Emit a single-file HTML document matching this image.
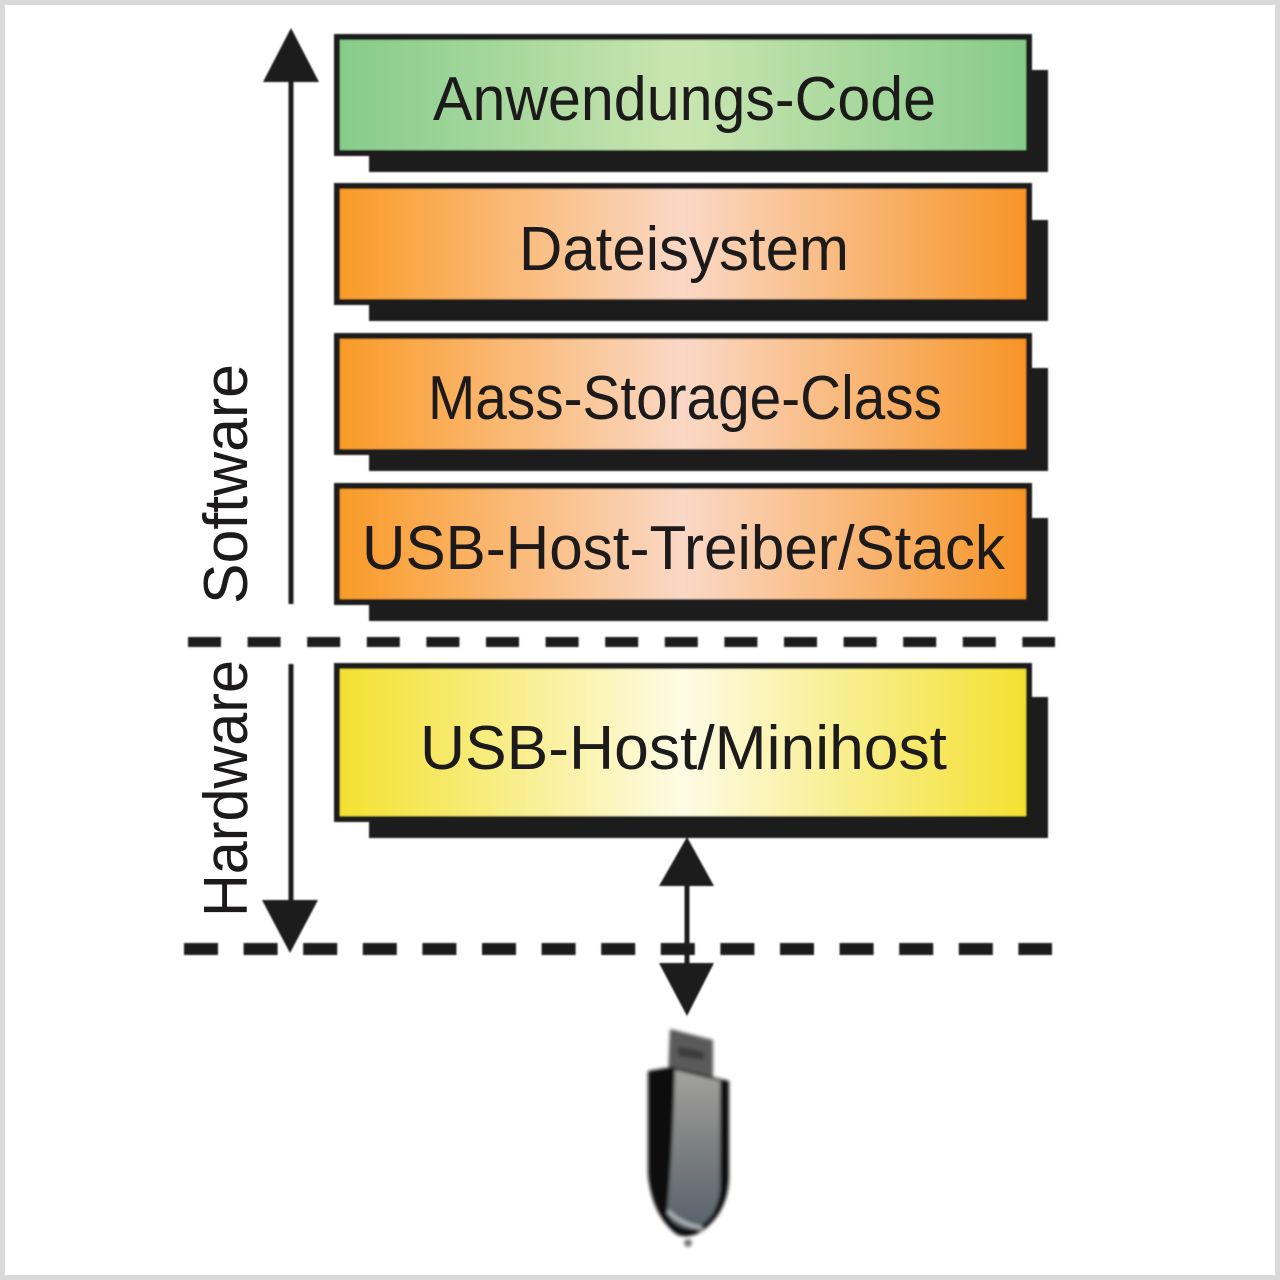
<!DOCTYPE html>
<html lang="de">
<head>
<meta charset="utf-8">
<title>USB-Host Schichtenmodell</title>
<style>
html,body{margin:0;padding:0;background:#fff}
svg{display:block}
text{font-family:"Liberation Sans",sans-serif;fill:#1c1a1b}
</style>
</head>
<body>
<svg xmlns="http://www.w3.org/2000/svg" width="1280" height="1280" viewBox="0 0 1280 1280">
<defs>
<linearGradient id="g" x1="0" x2="1" y1="0" y2="0"><stop offset="0" stop-color="#86cb8a"/><stop offset=".5" stop-color="#c9e5b0"/><stop offset="1" stop-color="#86cb8a"/></linearGradient>
<linearGradient id="o" x1="0" x2="1" y1="0" y2="0"><stop offset="0" stop-color="#f99a26"/><stop offset=".5" stop-color="#fad8c6"/><stop offset="1" stop-color="#f79425"/></linearGradient>
<linearGradient id="y" x1="0" x2="1" y1="0" y2="0"><stop offset="0" stop-color="#f3e02f"/><stop offset=".5" stop-color="#fdfbe4"/><stop offset="1" stop-color="#f3e02f"/></linearGradient>
<linearGradient id="m" x1="0" x2="0" y1="0" y2="1"><stop offset="0" stop-color="#a2a2a0"/><stop offset=".45" stop-color="#808282"/><stop offset="1" stop-color="#55626a"/></linearGradient>
<filter id="b" x="-20%" y="-20%" width="140%" height="140%"><feGaussianBlur stdDeviation="1.8"/></filter>
<filter id="s" x="-5%" y="-5%" width="110%" height="110%"><feGaussianBlur stdDeviation=".7"/></filter>
</defs>
<rect x="2.5" y="2.5" width="1275" height="1275" fill="#fff" stroke="#d9d9d9" stroke-width="5"/>
<g filter="url(#s)">
<g fill="#1c1a1b">
<rect x="369" y="70" width="679" height="102"/>
<rect x="369" y="220" width="679" height="101"/>
<rect x="369" y="368" width="679" height="103"/>
<rect x="369" y="518" width="679" height="103"/>
<rect x="369" y="697" width="679" height="141"/>
</g>
<g stroke="#1c1a1b" stroke-width="6">
<rect x="337" y="37" width="692" height="116" fill="url(#g)"/>
<rect x="337" y="186" width="692" height="116" fill="url(#o)"/>
<rect x="337" y="336" width="692" height="116" fill="url(#o)"/>
<rect x="337" y="486" width="692" height="116" fill="url(#o)"/>
<rect x="337" y="666" width="692" height="153" fill="url(#y)"/>
</g>
<g fill="none" stroke="#1c1a1b">
<path d="M291 78V604M291 664V905" stroke-width="5"/>
<path d="M687 880V968" stroke-width="5"/>
<path d="M188 642H1055" stroke-width="10" stroke-dasharray="33 26.6"/>
<path d="M184 949H1052" stroke-width="12" stroke-dasharray="34 25.6"/>
</g>
<g fill="#1c1a1b">
<path d="M291 28L319 82H263Z"/>
<path d="M290 953L262 900H318Z"/>
<path d="M687 837L714 886H659Z"/>
<path d="M687 1016L659 963H714Z"/>
</g>
</g>
<g text-anchor="start" font-size="62">
<text x="433" y="120" textLength="503" lengthAdjust="spacingAndGlyphs">Anwendungs-Code</text>
<text x="519" y="270" textLength="330" lengthAdjust="spacingAndGlyphs">Dateisystem</text>
<text x="428" y="419" textLength="514" lengthAdjust="spacingAndGlyphs">Mass-Storage-Class</text>
<text x="362" y="569" textLength="643" lengthAdjust="spacingAndGlyphs">USB-Host-Treiber/Stack</text>
<text x="420" y="769" textLength="527" lengthAdjust="spacingAndGlyphs">USB-Host/Minihost</text>
<text transform="translate(247 604) rotate(-90)" textLength="240" lengthAdjust="spacingAndGlyphs">Software</text>
<text transform="translate(247 917) rotate(-90)" textLength="257" lengthAdjust="spacingAndGlyphs">Hardware</text>
</g>
<g filter="url(#b)">
<path d="M670 1029L713 1040V1080L668 1076Z" fill="#5a5a5a"/>
<path d="M678 1046L704 1052V1060L678 1056Z" fill="#3e3e3e"/>
<path d="M648 1071L672 1067L729 1081V1175Q729 1212 702 1231Q688 1240 676 1234Q652 1215 648 1175Z" fill="#111"/>
<path d="M675 1070L720 1081V1190Q716 1222 692 1229Q672 1228 667 1212Q673 1150 675 1070Z" fill="url(#m)"/>
<path d="M668 1211Q680 1224 702 1228" fill="none" stroke="#aab2b6" stroke-width="4"/>
<circle cx="688" cy="1243" r="4" fill="#777"/>
</g>
</svg>
</body>
</html>
